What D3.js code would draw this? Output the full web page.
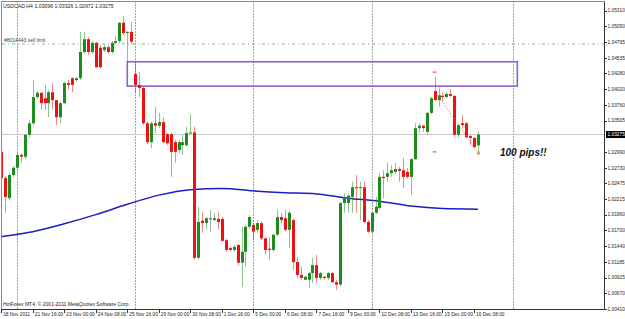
<!DOCTYPE html>
<html>
<head>
<meta charset="utf-8">
<script src="https://cdn.jsdelivr.net/npm/d3@7"></script>
<style>
  body { margin: 0; background: #fff; }
  svg { display: block; font-family: "Liberation Sans", Arial, sans-serif; }
</style>
</head>
<body>
<div id="chart"></div>
<script>
// USDCAD H4 candles, 18 Nov 2011 08:00 .. 16 Dec 2011 12:00 (bar index 0..121)
const opens = [1.0299,1.0256,1.0223,1.0261,1.0273,1.0294,1.0291,1.0327,1.0346,1.0389,
  1.0396,1.0387,1.0379,1.0397,1.0384,1.0356,1.0379,1.0412,1.0420,1.0417,
  1.0420,1.0463,1.0484,1.0463,1.0478,1.0470,1.0466,1.0471,1.0463,1.0478,
  1.0481,1.0511,1.0494,1.0496,1.0427,1.0409,1.0404,1.0346,1.0315,1.0346,
  1.0342,1.0348,1.0328,1.0328,1.0315,1.0302,1.0310,1.0310,1.0330,1.0331,
  1.0125,1.0186,1.0182,1.0190,1.0187,1.0189,1.0189,1.0154,1.0141,1.0138,
  1.0146,1.0117,1.0135,1.0176,1.0179,1.0171,1.0182,1.0157,1.0140,1.0138,
  1.0163,1.0192,1.0190,1.0171,1.0187,1.0118,1.0097,1.0089,1.0089,1.0100,
  1.0113,1.0092,1.0094,1.0092,1.0100,1.0085,1.0081,1.0215,1.0215,1.0225,
  1.0241,1.0240,1.0241,1.0184,1.0168,1.0199,1.0207,1.0258,1.0258,1.0264,
  1.0266,1.0271,1.0269,1.0266,1.0258,1.0287,1.0338,1.0342,1.0332,1.0363,
  1.0399,1.0384,1.0391,1.0389,1.0394,1.0391,1.0327,1.0346,1.0346,1.0325,
  1.0322,1.03096];
const highs = [1.0305,1.0259,1.0264,1.0276,1.0297,1.0297,1.0328,1.0351,1.0417,1.0399,
  1.0397,1.0409,1.0401,1.0412,1.0384,1.0382,1.0414,1.0417,1.0422,1.0422,
  1.0496,1.0496,1.0488,1.0481,1.0480,1.0475,1.0475,1.0473,1.0481,1.0489,
  1.0512,1.0522,1.0497,1.0512,1.0447,1.0430,1.0406,1.0349,1.0349,1.0373,
  1.0363,1.0355,1.0330,1.0330,1.0319,1.0319,1.0327,1.0340,1.0361,1.0340,
  1.0209,1.0200,1.0192,1.0204,1.0199,1.0200,1.0192,1.0156,1.0143,1.0146,
  1.0148,1.0176,1.0179,1.0195,1.0182,1.0187,1.0184,1.0159,1.0159,1.0164,
  1.0204,1.0199,1.0204,1.0202,1.0190,1.0126,1.0110,1.0095,1.0102,1.0125,
  1.0130,1.0102,1.0095,1.0102,1.0102,1.0089,1.0217,1.0231,1.0231,1.0250,
  1.0261,1.0250,1.0250,1.0187,1.0200,1.0225,1.0264,1.0269,1.0282,1.0277,
  1.0281,1.0274,1.0289,1.0273,1.0289,1.0346,1.0346,1.0343,1.0365,1.0389,
  1.0422,1.0405,1.0397,1.0397,1.0402,1.0392,1.0345,1.0360,1.0348,1.0327,
  1.0323,1.03326];
const lows = [1.0253,1.0199,1.0220,1.0258,1.0269,1.0282,1.0287,1.0323,1.0343,1.0386,
  1.0368,1.0368,1.0356,1.0368,1.0343,1.0346,1.0377,1.0401,1.0397,1.0414,
  1.0417,1.0460,1.0458,1.0460,1.0437,1.0436,1.0463,1.0460,1.0460,1.0476,
  1.0478,1.0491,1.0447,1.0476,1.0396,1.0389,1.0343,1.0312,1.0305,1.0330,
  1.0338,1.0313,1.0310,1.0258,1.0281,1.0297,1.0294,1.0307,1.0328,1.0122,
  1.0123,1.0166,1.0171,1.0168,1.0186,1.0171,1.0151,1.0135,1.0136,1.0135,
  1.0113,1.0077,1.0110,1.0172,1.0154,1.0166,1.0154,1.0130,1.0122,1.0135,
  1.0161,1.0182,1.0168,1.0141,1.0105,1.0092,1.0089,1.0089,1.0076,1.0084,
  1.0085,1.0089,1.0089,1.0089,1.0084,1.0072,1.0079,1.0199,1.0199,1.0199,
  1.0199,1.0187,1.0182,1.0166,1.0166,1.0197,1.0204,1.0223,1.0250,1.0258,
  1.0263,1.0250,1.0240,1.0255,1.0228,1.0286,1.0330,1.0332,1.0327,1.0361,
  1.0384,1.0373,1.0381,1.0387,1.0389,1.0323,1.0322,1.0338,1.0322,1.0310,
  1.0305,1.02972];
const closes = [1.0256,1.0225,1.0261,1.0273,1.0294,1.0291,1.0327,1.0346,1.0389,1.0396,
  1.0379,1.0379,1.0397,1.0384,1.0356,1.0379,1.0412,1.0409,1.0409,1.0420,
  1.0463,1.0484,1.0463,1.0478,1.0438,1.0438,1.0471,1.0463,1.0478,1.0481,
  1.0511,1.0494,1.0496,1.0480,1.0409,1.0404,1.0346,1.0315,1.0346,1.0342,
  1.0348,1.0315,1.0313,1.0299,1.0299,1.0315,1.0315,1.0330,1.0331,1.0125,
  1.0184,1.0182,1.0190,1.0190,1.0190,1.0184,1.0153,1.0138,1.0138,1.0143,
  1.0117,1.0135,1.0176,1.0192,1.0168,1.0182,1.0157,1.0138,1.0138,1.0163,
  1.0192,1.0187,1.0171,1.0199,1.0118,1.0097,1.0092,1.0094,1.0100,1.0113,
  1.0092,1.0100,1.0092,1.0100,1.0085,1.0081,1.0215,1.0225,1.0227,1.0241,
  1.0240,1.0241,1.0184,1.0168,1.0199,1.0209,1.0258,1.0256,1.0264,1.0269,
  1.0271,1.0268,1.0258,1.0258,1.0287,1.0338,1.0342,1.0338,1.0363,1.0387,
  1.0384,1.0392,1.0389,1.0394,1.0391,1.0327,1.0343,1.0343,1.0323,1.0322,
  1.0307,1.03275];

// moving average at some bars
const maIdx = [0, 8, 16, 24, 32, 40, 48, 56, 64, 72, 80, 88, 96, 104, 112, 121];
const maVal = [1.0160, 1.0168, 1.0181, 1.0196, 1.0213, 1.0228, 1.0237, 1.0239,
  1.0235, 1.0232, 1.0230, 1.0223, 1.0218, 1.0210, 1.0206, 1.0205];

// axis labels
const priceTicks = [1.05310, 1.05050, 1.04795, 1.04535, 1.04280, 1.04020, 1.03760, 1.03505,
  1.02990, 1.02730, 1.02475, 1.02215, 1.01960, 1.01700, 1.01440, 1.01185, 1.00925, 1.00670, 1.00410];
const dateIdx = [0, 8, 16, 24, 32, 40, 48, 56, 64, 72, 80, 88, 96, 104, 112, 120];
const dateLabels = ["18 Nov 2011", "21 Nov 16:00", "23 Nov 00:00", "24 Nov 08:00", "25 Nov 16:00",
  "29 Nov 00:00", "30 Nov 08:00", "1 Dec 16:00", "5 Dec 00:00", "6 Dec 08:00", "7 Dec 16:00",
  "9 Dec 00:00", "12 Dec 08:00", "13 Dec 16:00", "15 Dec 00:00", "16 Dec 08:00"];
const gridIdx = [4, 34, 64, 94, 130];

// objects on the chart
const bid = 1.03275;
const sellLimit = 1.04762;
const zone = { from: 32, to: 131, top: 1.0447, bottom: 1.0407 };
const trade = { openIdx: 110, openPrice: 1.0399, closeIdx: 121, closePrice: 1.0298, sl: 1.0430, tp: 1.0299 };

const W = 625, H = 319;
const pLeft = 2, pRight = 604.5, pTop = 1.5, pBottom = 309;
const fs = 4.8; // tiny MT4 label font

const x = d3.scaleLinear().domain([0, 130]).range([1.2, 513.4]);
const y = d3.scaleLinear().domain([1.00410, 1.05484]).range([pBottom, 0]);

const svg = d3.select("#chart").append("svg")
  .attr("width", W).attr("height", H);

svg.append("defs").append("clipPath").attr("id", "plot")
  .append("rect").attr("x", pLeft).attr("y", pTop).attr("width", pRight - pLeft).attr("height", pBottom - pTop);

const plot = svg.append("g").attr("clip-path", "url(#plot)");

// vertical grid (week separators)
plot.selectAll("line.grid").data(gridIdx).join("line")
  .attr("class", "grid")
  .attr("x1", d => Math.round(x(d)) + 0.5).attr("x2", d => Math.round(x(d)) + 0.5)
  .attr("y1", pTop).attr("y2", pBottom)
  .attr("stroke", "#444").attr("stroke-width", 1).attr("stroke-dasharray", "1,2");

// bid line
plot.append("line")
  .attr("x1", pLeft).attr("x2", pRight)
  .attr("y1", y(bid)).attr("y2", y(bid))
  .attr("stroke", "#c8c8c8").attr("stroke-width", 1);

// sell limit order line
plot.append("line")
  .attr("x1", pLeft).attr("x2", pRight)
  .attr("y1", y(sellLimit)).attr("y2", y(sellLimit))
  .attr("stroke", "#7fbf7f").attr("stroke-width", 1).attr("stroke-dasharray", "3,3,1,3");

// zone rectangle
plot.append("rect")
  .attr("x", x(zone.from)).attr("y", y(zone.top))
  .attr("width", x(zone.to) - x(zone.from)).attr("height", y(zone.bottom) - y(zone.top))
  .attr("fill", "none").attr("stroke", "#9160c8").attr("stroke-width", 1.6);

// moving average
plot.append("path")
  .datum(maIdx.map((d, i) => [d, maVal[i]]))
  .attr("d", d3.line().x(d => x(d[0])).y(d => y(d[1])).curve(d3.curveMonotoneX))
  .attr("fill", "none").attr("stroke", "#1c1cc8").attr("stroke-width", 1.5);

// candles
const bars = d3.range(opens.length);
const col = i => closes[i] > opens[i] ? "#1e8c1e" : closes[i] < opens[i] ? "#ee1111" : "#555";

plot.selectAll("line.wick").data(bars).join("line")
  .attr("class", "wick")
  .attr("x1", i => Math.round(x(i)) + 0.5).attr("x2", i => Math.round(x(i)) + 0.5)
  .attr("y1", i => y(highs[i])).attr("y2", i => y(lows[i]))
  .attr("stroke", col).attr("stroke-opacity", 0.5).attr("stroke-width", 1);

plot.selectAll("rect.body").data(bars).join("rect")
  .attr("class", "body")
  .attr("x", i => Math.round(x(i)) - 1)
  .attr("y", i => y(Math.max(opens[i], closes[i])))
  .attr("width", 3)
  .attr("height", i => Math.max(1, y(Math.min(opens[i], closes[i])) - y(Math.max(opens[i], closes[i]))))
  .attr("fill", col);

// trade history: dotted line from open to close, SL / TP marks
plot.append("line")
  .attr("x1", x(trade.openIdx)).attr("y1", y(trade.openPrice))
  .attr("x2", x(trade.closeIdx)).attr("y2", y(trade.closePrice))
  .attr("stroke", "#e06060").attr("stroke-width", 1).attr("stroke-dasharray", "1,2");
plot.append("line")
  .attr("x1", x(trade.openIdx) - 2).attr("x2", x(trade.openIdx) + 2)
  .attr("y1", y(trade.sl)).attr("y2", y(trade.sl))
  .attr("stroke", "#e04040").attr("stroke-width", 1);
plot.append("line")
  .attr("x1", x(trade.openIdx) - 2).attr("x2", x(trade.openIdx) + 2)
  .attr("y1", y(trade.tp)).attr("y2", y(trade.tp))
  .attr("stroke", "#6060e0").attr("stroke-width", 1);
plot.append("rect")
  .attr("x", x(trade.closeIdx) - 1).attr("y", y(trade.closePrice) - 1)
  .attr("width", 3).attr("height", 3).attr("fill", "#e8a040");

// frame
svg.append("line").attr("x1", 1.5).attr("x2", 1.5).attr("y1", pTop).attr("y2", pBottom)
  .attr("stroke", "#888");
svg.append("line").attr("x1", 1.5).attr("x2", pRight).attr("y1", pTop).attr("y2", pTop)
  .attr("stroke", "#888");
svg.append("line").attr("x1", pRight).attr("x2", pRight).attr("y1", pTop).attr("y2", pBottom + 0.5)
  .attr("stroke", "#333");
svg.append("line").attr("x1", 1.5).attr("x2", pRight).attr("y1", pBottom + 0.5).attr("y2", pBottom + 0.5)
  .attr("stroke", "#333");

// price axis
const pa = svg.append("g");
pa.selectAll("line").data(priceTicks).join("line")
  .attr("x1", pRight).attr("x2", pRight + 2.5)
  .attr("y1", d => Math.round(y(d)) + 0.5).attr("y2", d => Math.round(y(d)) + 0.5)
  .attr("stroke", "#333");
pa.selectAll("text").data(priceTicks).join("text")
  .attr("x", pRight + 3).attr("y", d => y(d) + 1.8)
  .attr("font-size", fs).attr("fill", "#222")
  .text(d => d.toFixed(5));
pa.append("rect")
  .attr("x", pRight + 1.5).attr("y", y(bid) - 3.5).attr("width", W - pRight - 1.5).attr("height", 7)
  .attr("fill", "#000");
pa.append("text")
  .attr("x", pRight + 3).attr("y", y(bid) + 1.8)
  .attr("font-size", fs).attr("fill", "#fff")
  .text(bid.toFixed(5));

// time axis
const ta = svg.append("g");
ta.selectAll("line").data(dateIdx).join("line")
  .attr("x1", d => Math.round(x(d)) + 0.5).attr("x2", d => Math.round(x(d)) + 0.5)
  .attr("y1", pBottom).attr("y2", pBottom + 4)
  .attr("stroke", "#333");
ta.selectAll("text").data(dateIdx).join("text")
  .attr("x", d => x(d) + 2).attr("y", pBottom + 7)
  .attr("font-size", fs).attr("fill", "#222")
  .text((d, i) => dateLabels[i]);

// labels
svg.append("text").attr("x", 3).attr("y", 8).attr("font-size", 5.2).attr("fill", "#222")
  .text("USDCAD,H4  1.03096 1.03326 1.02972 1.03275");
svg.append("text").attr("x", 4).attr("y", y(sellLimit) - 2).attr("font-size", 5).attr("fill", "#444")
  .text("#8014443 sell limit");
svg.append("text").attr("x", 3).attr("y", pBottom - 3).attr("font-size", 5).attr("fill", "#222")
  .text("HotForex MT4, \u00a9 2001-2011 MetaQuotes Software Corp.");
svg.append("text").attr("x", 500).attr("y", y(trade.closePrice) + 4)
  .attr("font-size", 10).attr("font-weight", "bold").attr("font-style", "italic").attr("fill", "#111")
  .text("100 pips!!");
</script>
</body>
</html>
